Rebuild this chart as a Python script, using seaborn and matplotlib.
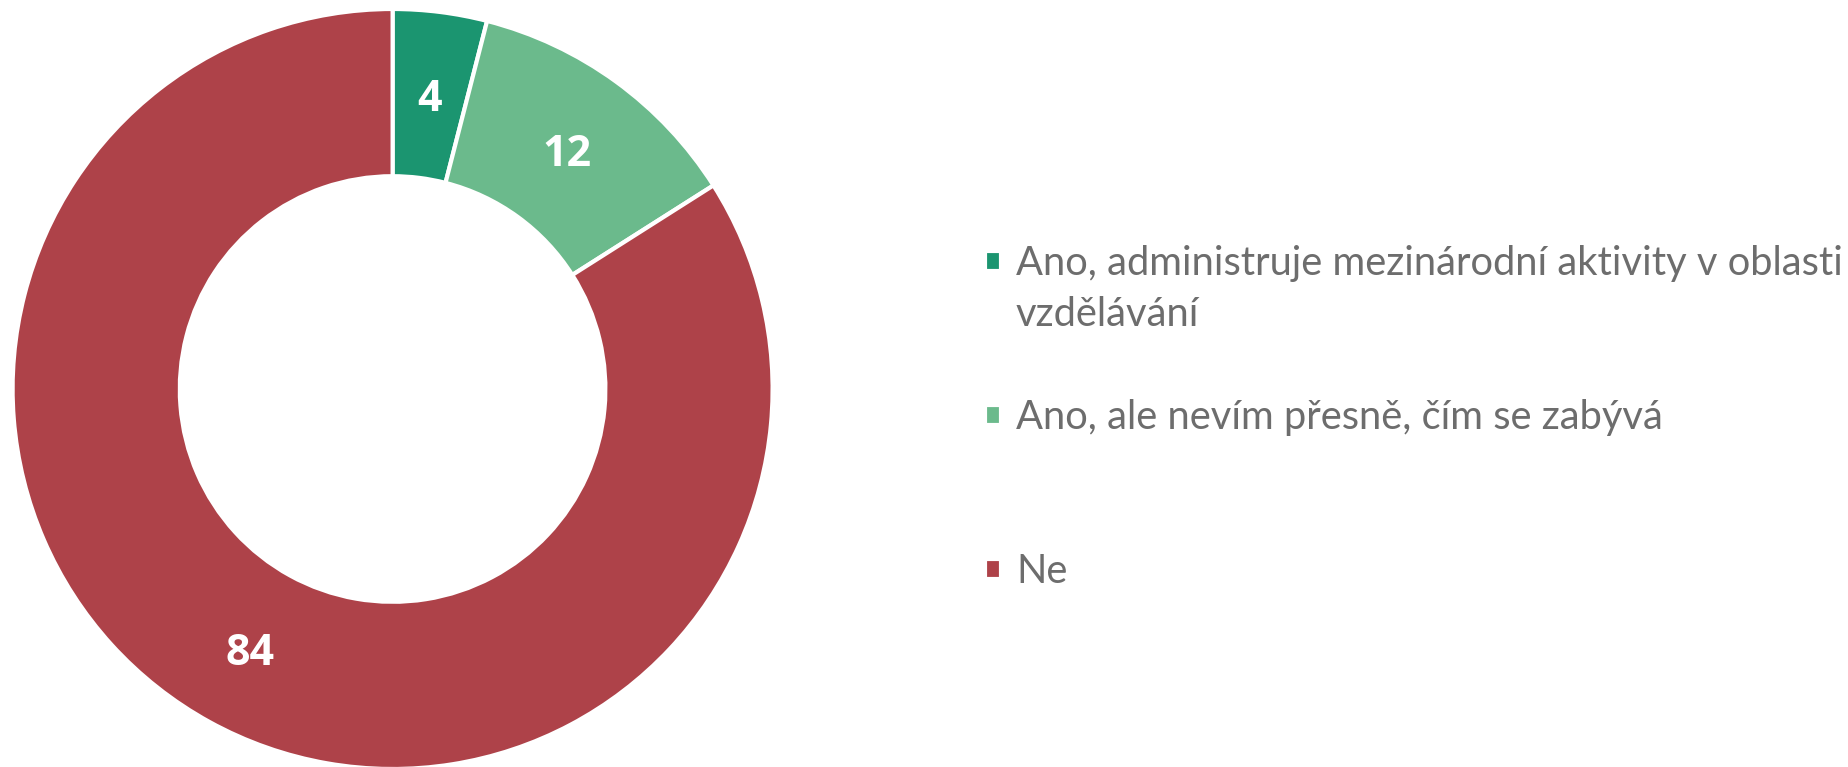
import numpy as np
import pandas as pd
import seaborn as sns
import matplotlib.pyplot as plt
from matplotlib.patches import Patch

categories = ['Ano, administruje mezinárodní aktivity v oblasti\nvzdělávání',
              'Ano, ale nevím přesně, čím se zabývá',
              'Ne']
values = [4, 12, 84]
colors = ['#1b9570', '#6bba8c', '#ae4249']

df = pd.DataFrame({'answer': categories, 'value': values})

sns.set_theme(style='white')
plt.rcParams['font.family'] = ['Lato', 'DejaVu Sans']

fig = plt.figure(figsize=(18.49, 7.67), dpi=100)
# donut box in pixel terms: centre ~ (393, 389), outer radius ~380
ax = fig.add_axes([12.6 / 1849, (378 - 380) / 767, 760 / 1849, 760 / 767])

wedges, texts, autotexts = ax.pie(
    df['value'], colors=colors, startangle=90, counterclock=False,
    radius=1.0, autopct='%.0f', pctdistance=0.78,
    wedgeprops=dict(width=0.44, edgecolor='white', linewidth=3),
    textprops=dict(color='white', fontsize=31, fontweight='bold',
                   family=['Open Sans', 'DejaVu Sans']))
for t in autotexts:
    t.set_va('center_baseline')
ax.set_xlim(-1, 1)
ax.set_ylim(-1, 1)
ax.set_aspect('auto')
ax.axis('off')

# legend: first entry wraps onto a second row, entries spaced like the original
blank = Patch(facecolor='none', edgecolor='none')
first, second = categories[0].split('\n')
handles = [wedges[0], blank, blank, wedges[1], blank, blank, wedges[2]]
labels = [first, second, '', categories[1], '', '', categories[2]]

fs = 28.7
fs_px = fs * 100 / 72
fig.legend(handles, labels, loc='upper left',
           bbox_to_anchor=(985 / 1849, 1 - 245 / 767),
           frameon=False, fontsize=fs, labelcolor='#6d6d6d',
           borderpad=0, borderaxespad=0,
           handlelength=16 / fs_px, handleheight=16 / fs_px,
           handletextpad=15 / fs_px, labelspacing=0.36)

fig.savefig('out.png', dpi=100, facecolor='white')
